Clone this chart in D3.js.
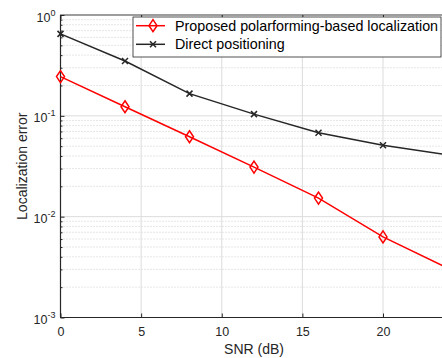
<!DOCTYPE html>
<html>
<head>
<meta charset="utf-8">
<script src="https://cdn.jsdelivr.net/npm/d3@7"></script>
<style>
  body { margin: 0; background: #fff; }
  svg { display: block; font-family: "Liberation Sans", Arial, sans-serif; }
</style>
</head>
<body>
<div id="chart"></div>
<script>
const snr = [0, 4, 8, 12, 16, 20, 24];
const proposed = [0.245, 0.123, 0.062, 0.031, 0.0153, 0.0063, 0.0031];
const direct = [0.65, 0.35, 0.166, 0.104, 0.068, 0.051, 0.041];
const xTicks = [0, 5, 10, 15, 20];
const yExps = [0, -1, -2, -3];
const seriesNames = ["Proposed polarforming-based localization", "Direct positioning"];

const W = 442, H = 358;
const margin = { top: 15, left: 60.5 },
      width = 387,
      height = 302.5;

const svg = d3.select("#chart").append("svg")
    .attr("width", W)
    .attr("height", H);

const g = svg.append("g")
    .attr("transform", "translate(" + margin.left + "," + margin.top + ")");

const x = d3.scaleLinear().domain([0, 24]).range([0, width]);
const y = d3.scaleLog().domain([1e-3, 1]).range([height, 0]);

// minor grid (dotted)
const minor = [];
for (let e = -3; e < 0; e++) for (let m = 2; m <= 9; m++) minor.push(m * Math.pow(10, e));
g.selectAll(".minor").data(minor).enter().append("line")
    .attr("x1", 0).attr("x2", width)
    .attr("y1", d => y(d)).attr("y2", d => y(d))
    .attr("stroke", "#b8b8b8").attr("stroke-width", 0.7)
    .attr("stroke-dasharray", "1,2");

// major grid
g.selectAll(".hmaj").data(yExps.map(e => Math.pow(10, e))).enter().append("line")
    .attr("x1", 0).attr("x2", width)
    .attr("y1", d => y(d)).attr("y2", d => y(d))
    .attr("stroke", "#dcdcdc").attr("stroke-width", 1);
g.selectAll(".vmaj").data(xTicks).enter().append("line")
    .attr("x1", d => x(d)).attr("x2", d => x(d))
    .attr("y1", 0).attr("y2", height)
    .attr("stroke", "#dcdcdc").attr("stroke-width", 1);

// axes box
g.append("rect")
    .attr("width", width).attr("height", height)
    .attr("fill", "none").attr("stroke", "#262626").attr("stroke-width", 0.8);
g.append("line").attr("x1", 0).attr("x2", width).attr("y1", height).attr("y2", height)
    .attr("stroke", "#262626").attr("stroke-width", 1.2);
g.append("line").attr("x1", 0).attr("x2", 0).attr("y1", 0).attr("y2", height)
    .attr("stroke", "#262626").attr("stroke-width", 1.2);

// x axis
const xAxis = g.append("g")
    .attr("transform", "translate(0," + height + ")")
    .call(d3.axisBottom(x).tickValues(xTicks).tickSize(-4).tickPadding(10).tickFormat(d3.format("d")));
xAxis.select(".domain").remove();
xAxis.selectAll("line").attr("stroke", "#262626");
xAxis.selectAll("text").attr("font-size", 12.5).attr("fill", "#262626")
    .attr("font-family", "Liberation Sans, Arial, sans-serif");
g.append("g")
    .call(d3.axisTop(x).tickValues(xTicks).tickSize(-4).tickFormat(""))
    .call(a => a.select(".domain").remove())
    .selectAll("line").attr("stroke", "#262626");

// y axis: major + minor ticks
const yAxis = g.append("g")
    .call(d3.axisLeft(y).tickValues(yExps.map(e => Math.pow(10, e))).tickSize(-4).tickFormat(""));
yAxis.select(".domain").remove();
yAxis.selectAll("line").attr("stroke", "#262626");
g.append("g")
    .call(d3.axisLeft(y).tickValues(minor).tickSize(-2).tickFormat(""))
    .call(a => a.select(".domain").remove())
    .selectAll("line").attr("stroke", "#262626");

const yl = g.selectAll(".ylab").data(yExps).enter().append("text")
    .attr("x", -5).attr("y", d => y(Math.pow(10, d)) + 6.5)
    .attr("text-anchor", "end")
    .attr("font-size", 12.5).attr("fill", "#262626");
yl.append("tspan").text("10");
yl.append("tspan").attr("dy", -6).attr("font-size", 9).text(d => d);

// axis labels
svg.append("text")
    .attr("x", margin.left + width / 2).attr("y", 354)
    .attr("text-anchor", "middle").attr("font-size", 14).attr("fill", "#262626")
    .text("SNR (dB)");
svg.append("text")
    .attr("transform", "translate(27," + (margin.top + height / 2) + ") rotate(-90)")
    .attr("text-anchor", "middle").attr("font-size", 14).attr("fill", "#262626")
    .text("Localization error");

// lines
const line = d3.line().x((d, i) => x(snr[i])).y(d => y(d));
const plot = g.append("g");
plot.append("path").datum(direct)
    .attr("d", line).attr("fill", "none").attr("stroke", "#262626").attr("stroke-width", 1.5);
plot.append("path").datum(proposed)
    .attr("d", line).attr("fill", "none").attr("stroke", "#ff0000").attr("stroke-width", 1.5);

const cross = (sel, cx, cy, s) => {
  sel.append("path")
    .attr("d", `M${cx - s},${cy - s}L${cx + s},${cy + s}M${cx - s},${cy + s}L${cx + s},${cy - s}`)
    .attr("stroke", "#262626").attr("stroke-width", 1.5).attr("fill", "none");
};
const diamond = (sel, cx, cy, w, h) => {
  sel.append("path")
    .attr("d", `M${cx},${cy - h}L${cx + w},${cy}L${cx},${cy + h}L${cx - w},${cy}Z`)
    .attr("stroke", "#ff0000").attr("stroke-width", 1.5).attr("fill", "none");
};
direct.forEach((d, i) => cross(plot, x(snr[i]), y(d), 3));
proposed.forEach((d, i) => diamond(plot, x(snr[i]), y(d), 4, 6));

// legend
const lg = svg.append("g").attr("transform", "translate(133,17)");
lg.append("rect").attr("width", 308).attr("height", 40)
    .attr("fill", "#fff").attr("stroke", "#262626").attr("stroke-width", 0.8);
const rows = [8.7, 27.3];
lg.append("line").attr("x1", 3).attr("x2", 32).attr("y1", rows[0]).attr("y2", rows[0])
    .attr("stroke", "#ff0000").attr("stroke-width", 1.5);
diamond(lg, 20, rows[0], 4, 6);
lg.append("line").attr("x1", 3).attr("x2", 32).attr("y1", rows[1]).attr("y2", rows[1])
    .attr("stroke", "#262626").attr("stroke-width", 1.5);
cross(lg, 20, rows[1], 3);
lg.selectAll(".lt").data(seriesNames).enter().append("text")
    .attr("x", 42).attr("y", (d, i) => rows[i] + 5)
    .attr("font-size", 14.3).attr("fill", "#000")
    .text(d => d);
</script>
</body>
</html>
